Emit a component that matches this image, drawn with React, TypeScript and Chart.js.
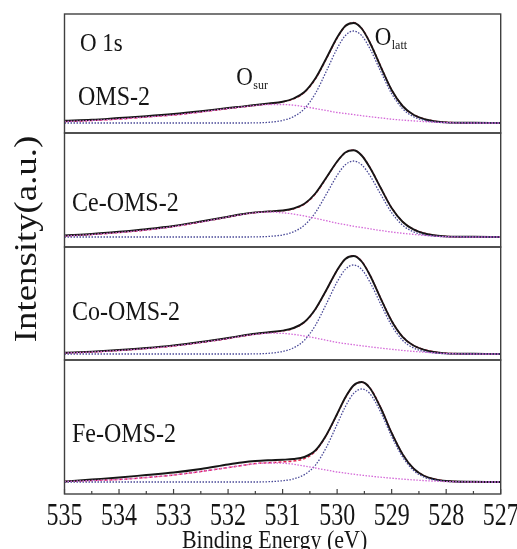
import React, { useEffect, useRef } from "react";
import { Chart, registerables } from "chart.js";

Chart.register(...registerables);

// Binding energy grid (eV)
const energies = [535, 534.5, 534, 533.5, 533, 532.5, 532, 531.75, 531.5, 531.25, 531, 530.8, 530.6, 530.4, 530.2, 530.0, 529.85, 529.7, 529.55, 529.4, 529.2, 529.0, 528.8, 528.6, 528.4, 528.2, 528, 527.5, 527];

// OMS-2
const omsExp = [2.3, 3.2, 5, 6.8, 9, 11.8, 15, 16.4, 18, 19.6, 21.3, 24.5, 31, 44.5, 64.5, 85.5, 97, 100, 94.5, 80.5, 56.2, 33, 17, 8.2, 3.8, 1.6, 0.6, 0.2, 0];
const omsFit = [1.5, 2.5, 4, 6, 8, 11, 14.5, 16, 17.6, 19.2, 21.1, 24.1, 30.6, 43.9, 64, 85, 96.9, 100.4, 94.7, 80.8, 56.6, 33.2, 17.2, 8.4, 4, 1.7, 0.7, 0, 0];
const omsLatt = [0, 0, 0, 0, 0, 0, 0, 0, 0.1, 0.7, 2.6, 6.3, 14.3, 29.4, 51.5, 74.5, 87.4, 92, 87.4, 74.5, 51.5, 29.4, 14.3, 6.3, 2.6, 0.9, 0.3, 0, 0];
const omsSur = [1.5, 2.5, 4, 6, 8, 11, 14.5, 16, 17.5, 18.5, 18.5, 17.8, 16.3, 14.5, 12.5, 10.5, 9.5, 8.4, 7.3, 6.3, 5.1, 3.8, 2.9, 2.1, 1.4, 0.8, 0.4, 0, 0];

// Ce-OMS-2
const ceExp = [1.5, 3, 5.2, 7.8, 11, 15.5, 20.3, 22.8, 24.6, 25.6, 26.5, 28.5, 33.2, 43.5, 59.2, 75.5, 84.5, 86.7, 81.5, 69.5, 49, 29, 15.3, 7.6, 3.5, 1.5, 0.6, 0.2, 0];
const ceFit = [1, 2.5, 4.5, 7, 10.5, 15, 20, 22.5, 24.4, 25.6, 26.3, 28.2, 32.8, 43, 58.9, 75.4, 84.5, 86.8, 81.7, 69.8, 49.1, 29.3, 15.5, 7.8, 3.7, 1.6, 0.5, 0, 0];
const ceLatt = [0, 0, 0, 0, 0, 0, 0, 0, 0.1, 0.6, 2.1, 5.2, 11.8, 24.3, 42.6, 61.6, 72.2, 76, 72.2, 61.6, 42.6, 24.3, 11.8, 5.2, 2.1, 0.8, 0.2, 0, 0];
const ceSur = [1, 2.5, 4.5, 7, 10.5, 15, 20, 22.5, 24.3, 25, 24.2, 23, 21, 18.7, 16.3, 13.8, 12.3, 10.8, 9.5, 8.2, 6.5, 5, 3.7, 2.6, 1.6, 0.8, 0.3, 0, 0];

// Co-OMS-2
const coExp = [1.2, 2.4, 4, 6, 8.6, 12, 16, 18.2, 20.2, 21.8, 23.4, 26, 32, 44.8, 63.8, 83.8, 95, 98, 92.5, 79, 55.4, 33, 17.2, 8.5, 4.1, 1.8, 0.6, 0.2, 0];
const coFit = [1, 2, 3.5, 5.5, 8, 11.5, 15.5, 17.8, 19.8, 21.5, 23.1, 25.7, 31.8, 44.5, 63.6, 83.7, 95, 98.3, 92.8, 79.3, 55.7, 33.2, 17.4, 8.7, 4.3, 2, 0.8, 0.1, 0];
const coLatt = [0, 0, 0, 0, 0, 0, 0, 0, 0.1, 0.7, 2.5, 6.1, 13.8, 28.5, 49.8, 72.1, 84.6, 89, 84.6, 72.1, 49.8, 28.5, 13.8, 6.1, 2.5, 0.9, 0.3, 0, 0];
const coSur = [1, 2, 3.5, 5.5, 8, 11.5, 15.5, 17.8, 19.7, 20.8, 20.6, 19.6, 18, 16, 13.8, 11.6, 10.4, 9.3, 8.2, 7.2, 5.9, 4.7, 3.6, 2.6, 1.8, 1.1, 0.5, 0, 0];

// Fe-OMS-2
const feExp = [0.5, 2.5, 4.5, 7, 9.5, 13, 17.5, 19.5, 21, 21.8, 22.3, 23, 25, 31.5, 46.8, 68, 84.5, 96.5, 100, 94, 74, 49, 27.8, 13.5, 6, 2.6, 1, 0.2, 0];
const feFit = [0.5, 1.5, 2.5, 4.5, 7, 10.5, 14.5, 16.5, 18.4, 19.3, 20.1, 20.9, 23.4, 30.7, 46.4, 67.7, 84.2, 96.2, 99.8, 94.3, 74.5, 49.3, 28, 13.7, 6.1, 2.8, 1.1, 0.1, 0];
const feLatt = [0, 0, 0, 0, 0, 0, 0, 0, 0, 0.3, 1.3, 3.1, 7.4, 16.7, 34.4, 57.7, 75.3, 88.4, 93, 88.4, 69.7, 45.5, 25.1, 11.6, 4.7, 2, 0.7, 0.1, 0];
const feSur = [0.5, 1.5, 2.5, 4.5, 7, 10.5, 14.5, 16.5, 18.3, 19, 18.8, 17.8, 16, 14, 12, 10, 8.9, 7.8, 6.8, 5.9, 4.8, 3.8, 2.9, 2.1, 1.4, 0.8, 0.4, 0, 0];

const sampleNames = ["OMS-2", "Ce-OMS-2", "Co-OMS-2", "Fe-OMS-2"];
const xTickValues = [535, 534, 533, 532, 531, 530, 529, 528, 527];
const xTickLabels = ["535", "534", "533", "532", "531", "530", "529", "528", "527"];
const xTitle = "Binding Energy (eV)";
const yTitle = "Intensity(a.u.)";
const coreLevel = "O 1s";

// axis ranges of each panel (intensity units)
const panelMin = [-10, -10, -6, -12];
const panelMax = [109, 104, 107, 122];
const panelWeight = [119, 114, 113, 134];

const FONT = '"Liberation Serif", "Times New Roman", serif';
const panelIds = ["y1", "y2", "y3", "y4"];
const labelOffsets = [91, 78, 73, 82];
const labelLeft = [78, 72, 72, 72];

function drawText(ctx: CanvasRenderingContext2D, text: string, x: number, y: number, size: number, sy: number, align: CanvasTextAlign) {
  ctx.save();
  ctx.translate(x, y);
  ctx.scale(1, sy);
  ctx.font = `${size}px ${FONT}`;
  ctx.textAlign = align;
  ctx.textBaseline = "alphabetic";
  ctx.fillText(text, 0, 0);
  ctx.restore();
}

const panelPlugin = {
  id: "panelDeco",
  afterDraw(chart: any) {
    const ctx: CanvasRenderingContext2D = chart.ctx;
    const area = chart.chartArea;
    const xs = chart.scales.x;
    ctx.save();
    // frames
    ctx.strokeStyle = "#404040";
    ctx.lineWidth = 1.4;
    panelIds.forEach((id) => {
      const s = chart.scales[id];
      ctx.strokeRect(area.left, s.top, area.right - area.left, s.bottom - s.top);
    });
    // ticks (inward)
    ctx.lineWidth = 1.2;
    ctx.beginPath();
    xTickValues.forEach((v, i) => {
      const px = xs.getPixelForValue(v);
      ctx.moveTo(px, area.bottom);
      ctx.lineTo(px, area.bottom - 5);
      if (i < xTickValues.length - 1) {
        const mid = (v + xTickValues[i + 1]) / 2;
        const pm = xs.getPixelForValue(mid);
        ctx.moveTo(pm, area.bottom);
        ctx.lineTo(pm, area.bottom - 3);
      }
    });
    ctx.stroke();
    ctx.fillStyle = "#151515";
    // tick labels
    xTickValues.forEach((v, i) => {
      drawText(ctx, xTickLabels[i], xs.getPixelForValue(v), area.bottom + 31, 24, 1.3, "center");
    });
    // x title
    drawText(ctx, xTitle, (area.left + area.right) / 2 - 8, area.bottom + 54, 22, 1.1, "center");
    // y title
    ctx.save();
    ctx.translate(36, (area.top + area.bottom) / 2 - 15);
    ctx.rotate(-Math.PI / 2);
    ctx.scale(1.15, 1);
    ctx.font = `32px ${FONT}`;
    ctx.textAlign = "center";
    ctx.textBaseline = "alphabetic";
    ctx.fillText(yTitle, 0, 0);
    ctx.restore();
    // sample labels
    panelIds.forEach((id, i) => {
      const s = chart.scales[id];
      drawText(ctx, sampleNames[i], labelLeft[i], s.top + labelOffsets[i], 24, 1.15, "left");
    });
    const top = chart.scales.y1.top;
    drawText(ctx, coreLevel, 80, top + 37, 23, 1.1, "left");
    // component labels
    const wO = 17;
    const xSur = xs.getPixelForValue(531.85);
    drawText(ctx, "O", xSur, top + 71, 23, 1.1, "left");
    drawText(ctx, "sur", xSur + wO, top + 75, 12, 1.1, "left");
    const xLatt = xs.getPixelForValue(529.31);
    drawText(ctx, "O", xLatt, top + 31, 23, 1.1, "left");
    drawText(ctx, "latt", xLatt + wO, top + 35, 12, 1.1, "left");
    ctx.restore();
  },
};

const panels = [
  { exp: omsExp, fit: omsFit, latt: omsLatt, sur: omsSur },
  { exp: ceExp, fit: ceFit, latt: ceLatt, sur: ceSur },
  { exp: coExp, fit: coFit, latt: coLatt, sur: coSur },
  { exp: feExp, fit: feFit, latt: feLatt, sur: feSur },
];

const toPts = (ys: number[]) => energies.map((e, i) => ({ x: e, y: ys[i] }));

export default function App() {
  const ref = useRef<HTMLCanvasElement | null>(null);
  useEffect(() => {
    if (!ref.current) return;
    const datasets: any[] = [];
    panels.forEach((p, i) => {
      const yAxisID = panelIds[i];
      const common = { yAxisID, xAxisID: "x", pointRadius: 0, cubicInterpolationMode: "monotone", fill: false };
      datasets.push({ ...common, label: `${sampleNames[i]} Osur`, data: toPts(p.sur), borderColor: "#d468d8", borderWidth: 1.3, borderDash: [1.5, 1.5] });
      datasets.push({ ...common, label: `${sampleNames[i]} Olatt`, data: toPts(p.latt), borderColor: "#4a4a98", borderWidth: 1.3, borderDash: [1.5, 1.5] });
      datasets.push({ ...common, label: `${sampleNames[i]} exp`, data: toPts(p.exp), borderColor: "#161616", borderWidth: 1.9 });
      datasets.push({ ...common, label: `${sampleNames[i]} fit`, data: toPts(p.fit), borderColor: "#e3234f", borderWidth: 1.5, borderDash: [3, 2] });
    });
    const scales: any = {
      x: {
        type: "linear", min: 527, max: 535, reverse: true,
        ticks: { display: false }, grid: { display: false }, border: { display: false },
        afterFit: (s: any) => { s.height = 0; },
      },
    };
    panelIds.forEach((id, i) => {
      scales[id] = {
        type: "linear", position: "left", stack: "panels", stackWeight: panelWeight[i], weight: 10 - i,
        min: panelMin[i], max: panelMax[i],
        ticks: { display: false }, grid: { display: false }, border: { display: false },
        afterFit: (s: any) => { s.width = 0; },
      };
    });
    const chart = new Chart(ref.current, {
      type: "line",
      data: { datasets },
      options: {
        animation: false,
        responsive: false,
        devicePixelRatio: 1,
        events: [],
        layout: { padding: { left: 64.5, right: 16.3, top: 14, bottom: 55 } },
        plugins: { legend: { display: false }, tooltip: { enabled: false } },
        scales,
      },
      plugins: [panelPlugin],
    } as any);
    return () => chart.destroy();
  }, []);
  return (
    <div style={{ position: "fixed", left: 0, top: 0, width: 517, height: 549, background: "#fff" }}>
      <canvas ref={ref} width={517} height={549} style={{ width: 517, height: 549, display: "block" }} />
    </div>
  );
}
